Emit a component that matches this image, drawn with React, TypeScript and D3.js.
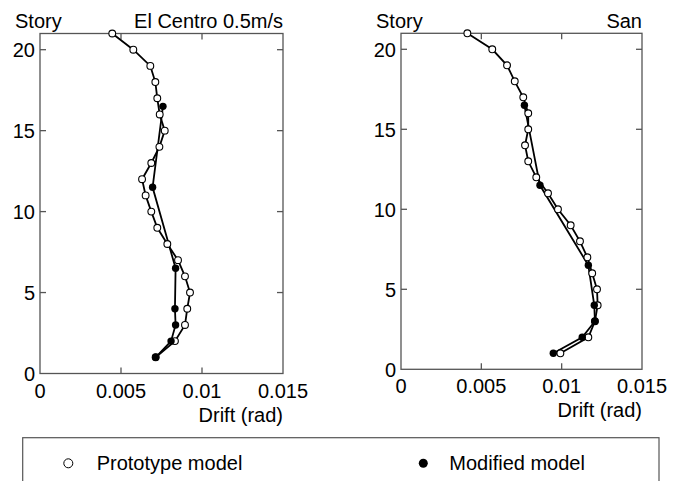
import React from "react";
import * as d3 from "d3";

// stories of the prototype model (one point per storey)
const protoStories = [1, 2, 3, 4, 5, 6, 7, 8, 9, 10, 11, 12, 13, 14, 15, 16, 17, 18, 19, 20, 21];
// modified model lumps storeys 5-8, 9-14, 15-18
const modStories = [1, 2, 3, 4, 6.5, 11.5, 16.5];

const elCentroProto = [0.00714, 0.00833, 0.00895, 0.00909, 0.00926, 0.00895, 0.00852, 0.00786, 0.00724, 0.00687, 0.00652, 0.0063, 0.00687, 0.00737, 0.0077, 0.00739, 0.00724, 0.00712, 0.00681, 0.00576, 0.00446];
const elCentroMod = [0.00714, 0.00809, 0.00837, 0.00833, 0.00837, 0.00695, 0.00759];

const sanProto = [0.00992, 0.01166, 0.01207, 0.01224, 0.0122, 0.0119, 0.0116, 0.01114, 0.01056, 0.00977, 0.00915, 0.00842, 0.00792, 0.00772, 0.00792, 0.00792, 0.00761, 0.00708, 0.0066, 0.00568, 0.00413];
const sanMod = [0.00948, 0.01128, 0.01207, 0.01203, 0.01166, 0.00865, 0.00768];

const xTicks = [0, 0.005, 0.01, 0.015];
const xTickLabels = ["0", "0.005", "0.01", "0.015"];
const yTicks = [0, 5, 10, 15, 20];

const FONT = "'Liberation Sans', Arial, sans-serif";
const FS = 20;
const AXIS = "#555";

type PanelProps = {
  x0: number;
  x1: number;
  y0: number;
  y1: number;
  title: string;
  proto: number[];
  mod: number[];
};

const Panel = ({ x0, x1, y0, y1, title, proto, mod }: PanelProps) => {
  const x = d3.scaleLinear().domain([0, 0.015]).range([x0, x1]);
  const y = d3.scaleLinear().domain([0, 21]).range([y1, y0]);
  const line = d3
    .line<[number, number]>()
    .x((d) => x(d[0]))
    .y((d) => y(d[1]));
  const protoPts: [number, number][] = proto.map((v, i) => [v, protoStories[i]]);
  const modPts: [number, number][] = mod.map((v, i) => [v, modStories[i]]);
  const tl = 6;

  return (
    <g fontFamily={FONT} fontSize={FS}>
      {/* frame */}
      <rect x={x0} y={y0} width={x1 - x0} height={y1 - y0} fill="none" stroke={AXIS} strokeWidth={1.3} />
      {/* y ticks, both sides, inward */}
      {yTicks.map((t) => (
        <g key={"y" + t}>
          {t > 0 && (
            <>
              <line x1={x0} x2={x0 + tl} y1={y(t)} y2={y(t)} stroke={AXIS} strokeWidth={1.3} />
              <line x1={x1} x2={x1 - tl} y1={y(t)} y2={y(t)} stroke={AXIS} strokeWidth={1.3} />
            </>
          )}
          <text x={x0 - 5} y={y(t)} dy="0.36em" textAnchor="end">
            {t}
          </text>
        </g>
      ))}
      {/* x ticks */}
      {xTicks.map((t, i) => (
        <g key={"x" + t}>
          {i > 0 && i < xTicks.length - 1 && (
            <>
              <line x1={x(t)} x2={x(t)} y1={y1} y2={y1 - tl} stroke={AXIS} strokeWidth={1.3} />
              <line x1={x(t)} x2={x(t)} y1={y0} y2={y0 + tl} stroke={AXIS} strokeWidth={1.3} />
            </>
          )}
          <text x={x(t)} y={y1 + 24} textAnchor="middle">
            {xTickLabels[i]}
          </text>
        </g>
      ))}
      <text x={x0 - 25} y={27.5}>Story</text>
      <text x={x1} y={27.5} textAnchor="end">{title}</text>
      <text x={x1} y={y1 + 48} textAnchor="end">Drift (rad)</text>

      {/* series */}
      <path d={line(modPts) ?? ""} fill="none" stroke="#000" strokeWidth={1.8} />
      <path d={line(protoPts) ?? ""} fill="none" stroke="#000" strokeWidth={1.8} />
      {protoPts.map((d, i) => (
        <circle key={"p" + i} cx={x(d[0])} cy={y(d[1])} r={3.4} fill="#fff" stroke="#000" strokeWidth={1.1} />
      ))}
      {modPts.map((d, i) => (
        <circle key={"m" + i} cx={x(d[0])} cy={y(d[1])} r={3.7} fill="#000" />
      ))}
    </g>
  );
};

export default function App() {
  return (
    <div style={{ position: "absolute", left: 0, top: 0 }}>
      <svg width={675} height={481} style={{ display: "block", background: "#fff" }}>
        <Panel x0={40} x1={283} y0={33.5} y1={373.5} title="El Centro 0.5m/s" proto={elCentroProto} mod={elCentroMod} />
        <Panel x0={401} x1={642} y0={33.3} y1={369.3} title="San" proto={sanProto} mod={sanMod} />

        {/* legend */}
        <g fontFamily={FONT} fontSize={FS}>
          <rect x={22.7} y={437.7} width={636.3} height={60} fill="#fff" stroke={AXIS} strokeWidth={1.2} />
          <circle cx={68.3} cy={463.3} r={4.5} fill="#fff" stroke="#000" strokeWidth={1} />
          <text x={96.7} y={469.5}>Prototype model</text>
          <circle cx={423.3} cy={463.3} r={4.5} fill="#000" />
          <text x={449.3} y={469.5}>Modified model</text>
        </g>
      </svg>
    </div>
  );
}
